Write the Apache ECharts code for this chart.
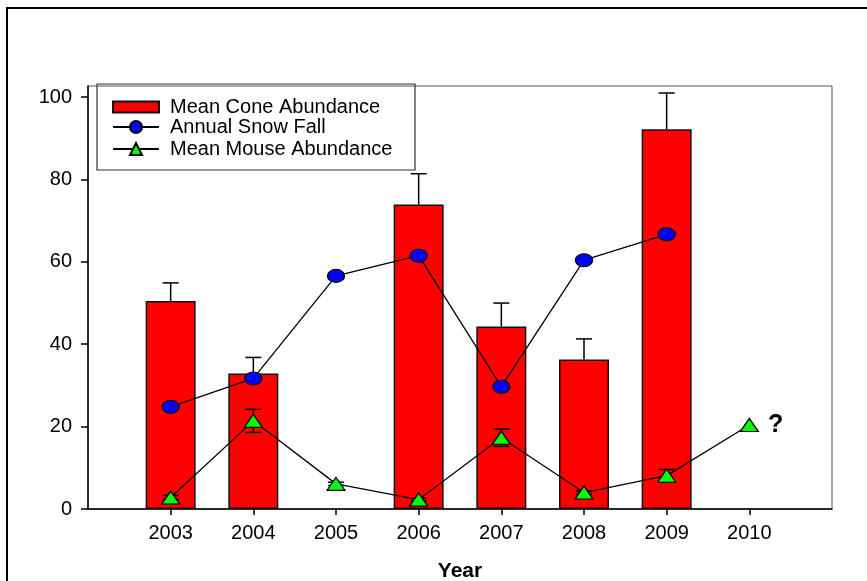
<!DOCTYPE html>
<html>
<head>
<meta charset="utf-8">
<script src="https://cdn.jsdelivr.net/npm/echarts@6/dist/echarts.min.js"></script>
<style>
  html, body { margin: 0; padding: 0; background: #fff; }
  #chart { width: 867px; height: 581px; }
</style>
</head>
<body>
<div id="chart"></div>
<script>
// Years on the x axis
const years = [2003, 2004, 2005, 2006, 2007, 2008, 2009, 2010];
const yTicks = [0, 20, 40, 60, 80, 100];

// Mean cone abundance (bars) with upper standard error
const coneYears = [2003, 2004, 2006, 2007, 2008, 2009];
const coneMean = [50.5, 32.9, 73.9, 44.3, 36.3, 92.2];
const coneErr = [4.4, 3.9, 7.5, 5.7, 5.0, 8.8];

// Annual snow fall (circles)
const snowYears = [2003, 2004, 2005, 2006, 2007, 2008, 2009];
const snowFall = [24.8, 31.7, 56.6, 61.5, 29.7, 60.4, 66.7];

// Mean mouse abundance (triangles) with standard error
const mouseYears = [2003, 2004, 2005, 2006, 2007, 2008, 2009, 2010];
const mouseMean = [2.8, 21.4, 6.1, 2.3, 17.3, 4.0, 8.1, 20.4];
const mouseErr = [0.5, 2.8, 0.4, 0.3, 2.1, 0.4, 1.5, 0];

const FONT = 'Liberation Sans, Arial, sans-serif';

const pair = (xs, ys) => xs.map((x, i) => [x, ys[i]]);

// Error-bar renderer: vertical whisker with caps
function errorBars(upOnly, capHalf) {
  return function (params, api) {
    const x = api.value(0), y = api.value(1), e = api.value(2);
    if (!e) return null;
    const top = api.coord([x, y + e]);
    const mid = api.coord([x, y]);
    const bot = upOnly ? mid : api.coord([x, y - e]);
    const st = { stroke: '#000', lineWidth: 1.5 };
    const kids = [
      { type: 'line', shape: { x1: top[0], y1: top[1], x2: bot[0], y2: bot[1] }, style: st },
      { type: 'line', shape: { x1: top[0] - capHalf, y1: top[1], x2: top[0] + capHalf, y2: top[1] }, style: st }
    ];
    if (!upOnly) {
      kids.push({ type: 'line', shape: { x1: bot[0] - capHalf, y1: bot[1], x2: bot[0] + capHalf, y2: bot[1] }, style: st });
    }
    return { type: 'group', children: kids };
  };
}

const legendText = { fontFamily: FONT, fontSize: 20, color: '#000', lineHeight: 15, padding: [0, 0, 0, 6] };

const chart = echarts.init(document.getElementById('chart'), null, { renderer: 'canvas' });

chart.setOption({
  animation: false,
  backgroundColor: '#fff',
  textStyle: { fontFamily: FONT },
  grid: {
    left: 88, top: 86, right: 35, bottom: 72,
    containLabel: false, outerBoundsMode: 'none',
    show: true, borderColor: '#555', borderWidth: 1
  },
  xAxis: {
    type: 'value', min: 2002, max: 2011,
    name: 'Year', nameLocation: 'middle', nameGap: 52,
    nameTextStyle: { fontFamily: FONT, fontSize: 21, fontWeight: 'bold', color: '#000' },
    axisLine: { show: true, onZero: false, lineStyle: { color: '#000', width: 1.5 } },
    axisTick: { show: true, length: 6, customValues: years, lineStyle: { color: '#000', width: 1.5 } },
    axisLabel: {
      customValues: years, margin: 14, fontFamily: FONT, fontSize: 20, color: '#000',
      formatter: v => String(v)
    },
    splitLine: { show: false }
  },
  yAxis: {
    type: 'value', min: 0, max: 102.7,
    axisLine: { show: true, lineStyle: { color: '#000', width: 1.5 } },
    axisTick: { show: true, length: 7, customValues: yTicks, lineStyle: { color: '#000', width: 1.5 } },
    axisLabel: { customValues: yTicks, margin: 16, fontFamily: FONT, fontSize: 20, color: '#000' },
    splitLine: { show: false }
  },
  legend: [
    {
      left: 112, top: 97, orient: 'vertical', padding: 0,
      itemWidth: 46, itemHeight: 11,
      data: [{ name: 'Mean Cone Abundance', icon: 'rect' }],
      textStyle: legendText
    },
    {
      left: 112, top: 117, orient: 'vertical', padding: 0,
      itemWidth: 46, itemHeight: 15, itemGap: 2,
      data: ['Annual Snow Fall', 'Mean Mouse Abundance'],
      textStyle: legendText
    }
  ],
  graphic: [
    { type: 'rect', shape: { x: 7, y: 8, width: 900, height: 620 },
      style: { fill: 'none', stroke: '#000', lineWidth: 2 }, z: 100 },
    { type: 'rect', shape: { x: 97, y: 84, width: 318, height: 86 },
      style: { fill: 'none', stroke: '#333', lineWidth: 1.2 }, z: 100 }
  ],
  series: [
    {
      name: 'Mean Cone Abundance', type: 'bar',
      data: pair(coneYears, coneMean),
      barWidth: 50,
      itemStyle: { color: '#ff0000', borderColor: '#111', borderWidth: 1.5 },
      z: 1
    },
    {
      name: 'coneErr', type: 'custom',
      data: coneYears.map((x, i) => [x, coneMean[i], coneErr[i]]),
      renderItem: errorBars(true, 8),
      z: 2, silent: true
    },
    {
      name: 'Annual Snow Fall', type: 'line',
      data: pair(snowYears, snowFall),
      symbol: 'circle', symbolSize: [17, 13],
      lineStyle: { color: '#000', width: 1.3 },
      itemStyle: { color: '#0000ff', borderColor: '#000', borderWidth: 1.2 },
      z: 4
    },
    {
      name: 'mouseErr', type: 'custom',
      data: mouseYears.map((x, i) => [x, mouseMean[i], mouseErr[i]]),
      renderItem: errorBars(false, 8),
      z: 3, silent: true
    },
    {
      name: 'Mean Mouse Abundance', type: 'line',
      data: pair(mouseYears, mouseMean),
      symbol: 'triangle', symbolSize: [18, 13],
      lineStyle: { color: '#000', width: 1.3 },
      itemStyle: { color: '#00ff00', borderColor: '#000', borderWidth: 1.2 },
      label: {
        show: true, position: 'right', distance: 9,
        fontFamily: FONT, fontSize: 25, fontWeight: 'bold', color: '#000',
        formatter: p => (p.dataIndex === mouseYears.length - 1 ? '?' : '')
      },
      z: 5
    }
  ]
});
</script>
</body>
</html>
